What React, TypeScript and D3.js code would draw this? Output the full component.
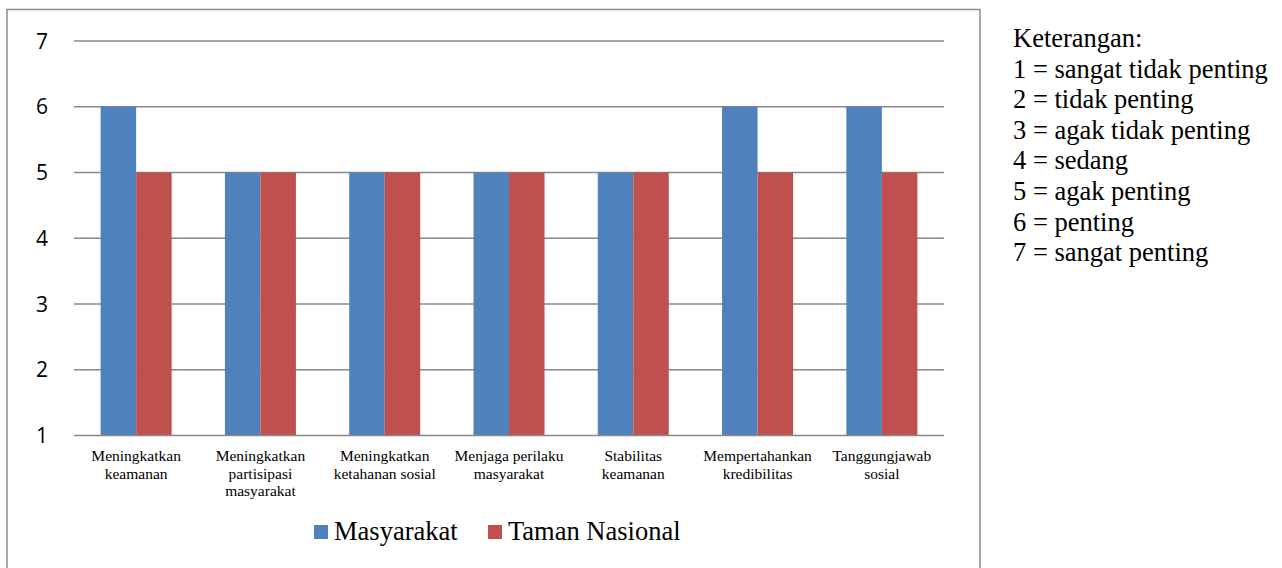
import React from "react";
import * as d3 from "d3";

const categories: string[][] = [
  ["Meningkatkan", "keamanan"],
  ["Meningkatkan", "partisipasi", "masyarakat"],
  ["Meningkatkan", "ketahanan sosial"],
  ["Menjaga perilaku", "masyarakat"],
  ["Stabilitas", "keamanan"],
  ["Mempertahankan", "kredibilitas"],
  ["Tanggungjawab", "sosial"],
];
const masyarakat = [6, 5, 5, 5, 5, 6, 6];
const tamanNasional = [5, 5, 5, 5, 5, 5, 5];
const seriesNames = ["Masyarakat", "Taman Nasional"];
const seriesColors = ["#4F81BD", "#C0504D"];
const yTicks = [1, 2, 3, 4, 5, 6, 7];
const keterangan = [
  "Keterangan:",
  "1 = sangat tidak penting",
  "2 = tidak penting",
  "3 = agak tidak penting",
  "4 = sedang",
  "5 = agak penting",
  "6 = penting",
  "7 = sangat penting",
];

const SERIF = "Liberation Serif";

export default function App() {
  const W = 1282, H = 568;
  const left = 74, right = 944, top = 41, bottom = 435.5;
  const band = (right - left) / categories.length;
  const barW = band * 0.2857;
  const y = d3.scaleLinear().domain([1, 7]).range([bottom, top]);
  const series = [masyarakat, tamanNasional];
  const center = (i: number) => left + band * (i + 0.5);
  return (
    <svg width={W} height={H} style={{ position: "absolute", left: 0, top: 0, background: "#fff" }}>
      <rect x={7} y={9.5} width={973} height={580} fill="#fff" stroke="#8c8c8c" strokeWidth={1.5} />
      {yTicks.map((t) => (
        <g key={t}>
          {t > 1 && <line x1={left} x2={right} y1={y(t)} y2={y(t)} stroke="#888" strokeWidth={1.3} />}
          <text x={42} y={y(t)} dy="0.36em" textAnchor="middle" fontFamily="Open Sans" fontSize={21} fill="#000">{t}</text>
        </g>
      ))}
      {series.map((vals, s) =>
        vals.map((v, i) => (
          <rect key={`${s}-${i}`} x={center(i) - barW + s * barW} y={y(v)} width={barW} height={y(1) - y(v)} fill={seriesColors[s]} />
        ))
      )}
      <line x1={left} x2={right} y1={bottom} y2={bottom} stroke="#888" strokeWidth={1.5} />
      {categories.map((lines, i) => (
        <text key={i} textAnchor="middle" fontFamily={SERIF} fontSize={15.5} fill="#000">
          {lines.map((ln, j) => (
            <tspan key={j} x={center(i)} y={461 + j * 17.5}>{ln}</tspan>
          ))}
        </text>
      ))}
      {seriesNames.map((n, s) => {
        const lx = s === 0 ? 314 : 488;
        return (
          <g key={n}>
            <rect x={lx} y={525} width={14} height={14} fill={seriesColors[s]} />
            <text x={lx + 20} y={540} fontFamily={SERIF} fontSize={26.5} fill="#000">{n}</text>
          </g>
        );
      })}
      {keterangan.map((t, i) => (
        <text key={i} x={1013} y={47 + i * 30.6} fontFamily={SERIF} fontSize={26.5} fill="#000">{t}</text>
      ))}
    </svg>
  );
}
